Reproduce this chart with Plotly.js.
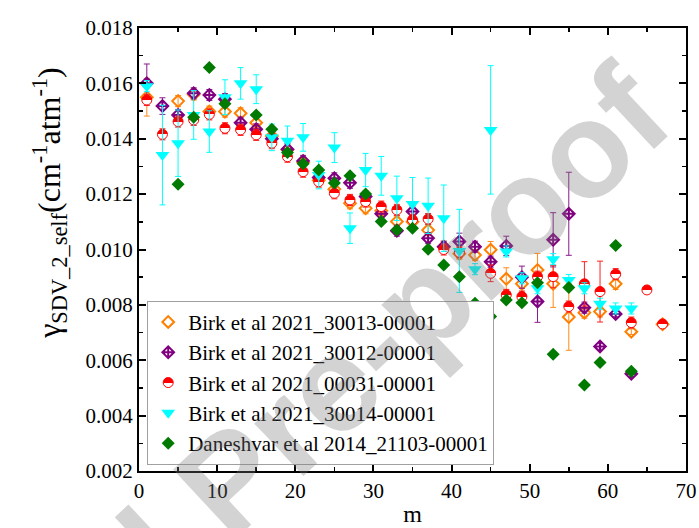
<!DOCTYPE html>
<html>
<head>
<meta charset="utf-8">
<script src="https://cdn.plot.ly/plotly-3.0.1.min.js"></script>
<style>
  html, body { margin: 0; padding: 0; background: #fff; }
  #chart { width: 699px; height: 528px; }
</style>
</head>
<body>
<div id="chart"></div>
<script>
// Self-broadened SDV (gamma_2) coefficients versus m, several band datasets

// Birk et al 2021, band 30013-00001
const m30013 = [1, 5, 7, 9, 11, 13, 15, 17, 19, 21, 23, 25, 27, 29, 31, 33, 35, 37, 39, 41, 43, 45, 47, 49, 51, 53, 55, 57, 59, 61, 63, 67];
const g30013 = [0.0155, 0.01536, 0.0156, 0.01498, 0.01498, 0.01492, 0.01458, 0.0141, 0.0136, 0.01315, 0.0125, 0.01218, 0.01167, 0.01149, 0.0114, 0.01101, 0.0110, 0.0107, 0.0101, 0.00985, 0.0098, 0.00999, 0.00894, 0.00876, 0.00926, 0.00876, 0.00756, 0.00772, 0.00776, 0.00876, 0.00703, 0.0073];
const e30013 = [0.00068, 0.0002, 0.0002, 0.0002, 0.0002, 0.0002, 0.0002, 0.0002, 0.0002, 0.0002, 0.0002, 0.0002, 0.0002, 0.0002, 0.0002, 0.0002, 0.0002, 0.0002, 0.0002, 0.0002, 0.0002, 0.0003, 0.0004, 0.0003, 0.0006, 0.00085, 0.0012, 0.0002, 0.0002, 0.0002, 0.0001, 0.0001];

// Birk et al 2021, band 30012-00001
const m30012 = [1, 3, 5, 7, 9, 11, 13, 15, 17, 19, 21, 23, 25, 27, 29, 31, 33, 35, 37, 39, 41, 43, 45, 47, 49, 51, 53, 55, 57, 59, 61, 63];
const g30012 = [0.0160, 0.01518, 0.01486, 0.01564, 0.01558, 0.01543, 0.01458, 0.01434, 0.0140, 0.01362, 0.0132, 0.0126, 0.01257, 0.01241, 0.01191, 0.01129, 0.01068, 0.01137, 0.01041, 0.0101, 0.01029, 0.0101, 0.00956, 0.01013, 0.0090, 0.00812, 0.01035, 0.01129, 0.0079, 0.0065, 0.00767, 0.00551];
const e30012 = [0.0007, 0.0003, 0.0002, 0.0002, 0.0002, 0.0002, 0.0002, 0.0002, 0.0002, 0.0002, 0.0002, 0.0002, 0.0002, 0.0002, 0.0002, 0.0002, 0.0002, 0.0002, 0.0002, 0.0002, 0.0003, 0.0002, 0.0002, 0.00035, 0.0004, 0.00075, 0.00098, 0.0015, 0.0002, 0.0001, 0.0001, 0.0001];

// Birk et al 2021, band 00031-00001
const m00031 = [1, 3, 5, 7, 9, 11, 13, 15, 17, 19, 21, 23, 25, 27, 29, 31, 33, 35, 37, 39, 41, 43, 45, 47, 49, 51, 53, 55, 57, 59, 61, 63, 65, 67];
const g00031 = [0.0154, 0.01416, 0.01462, 0.01468, 0.01488, 0.01438, 0.01432, 0.01414, 0.01384, 0.01335, 0.01281, 0.01245, 0.01203, 0.01179, 0.01173, 0.01155, 0.01143, 0.01107, 0.0111, 0.0100, 0.0099, 0.00796, 0.00914, 0.00836, 0.0083, 0.00902, 0.00902, 0.00794, 0.00876, 0.00848, 0.00911, 0.00736, 0.00854, 0.00731];
const e00031 = [0.0002, 0.0002, 0.0002, 0.0002, 0.0002, 0.0002, 0.0002, 0.0002, 0.0002, 0.0002, 0.0002, 0.0002, 0.0002, 0.0002, 0.0002, 0.0002, 0.0002, 0.0002, 0.0002, 0.0002, 0.0002, 0.0002, 0.0003, 0.0002, 0.0002, 0.0002, 0.0004, 0.0002, 0.0008, 0.0011, 0.0002, 0.0002, 0.0001, 0.0001];

// Birk et al 2021, band 30014-00001
const m30014 = [1, 3, 5, 7, 9, 11, 13, 15, 17, 19, 21, 23, 25, 27, 29, 31, 33, 35, 37, 39, 41, 43, 45, 47, 49, 51, 53, 55, 57, 59, 61, 63];
const g30014 = [0.0159, 0.01341, 0.01384, 0.01486, 0.01426, 0.0155, 0.0160, 0.01579, 0.01405, 0.01393, 0.01405, 0.01269, 0.01368, 0.01077, 0.01287, 0.01266, 0.01185, 0.01164, 0.01158, 0.01113, 0.00995, 0.00929, 0.01432, 0.00993, 0.00896, 0.0086, 0.00965, 0.0089, 0.0086, 0.00804, 0.00787, 0.00787];
const e30014 = [0.0002, 0.0018, 0.0012, 0.00088, 0.00075, 0.00063, 0.00057, 0.00052, 0.00048, 0.00053, 0.0005, 0.0005, 0.00054, 0.00055, 0.0006, 0.0007, 0.0008, 0.00096, 0.001, 0.0012, 0.0015, 0.0002, 0.00232, 0.0002, 0.0002, 0.0002, 0.0002, 0.0002, 0.0002, 0.0002, 0.0002, 0.0002];

// Daneshvar et al 2014, band 21103-00001
const m21103 = [5, 7, 9, 11, 15, 17, 19, 21, 23, 25, 27, 29, 31, 33, 35, 37, 39, 41, 43, 45, 47, 49, 51, 53, 55, 57, 59, 61, 63];
const g21103 = [0.01236, 0.01478, 0.01657, 0.01526, 0.01486, 0.01434, 0.0135, 0.0131, 0.01287, 0.0124, 0.01266, 0.0120, 0.01101, 0.0107, 0.01077, 0.01001, 0.00944, 0.00902, 0.00806, 0.00758, 0.00818, 0.00808, 0.0088, 0.00622, 0.00863, 0.00511, 0.00592, 0.01014, 0.0056];

const names = [
  'Birk et al 2021_30013-00001',
  'Birk et al 2021_30012-00001',
  'Birk et al 2021_00031-00001',
  'Birk et al 2021_30014-00001',
  'Daneshvar et al 2014_21103-00001'
];

const serif = 'Liberation Serif, Times New Roman, serif';

function errBar(arr, color) {
  return { type: 'data', array: arr, visible: true, color: color, thickness: 1, width: 3 };
}

const traces = [
  {
    x: m30013, y: g30013, name: names[0], mode: 'markers', type: 'scatter',
    error_y: errBar(e30013, '#ff8c1a'),
    marker: { symbol: 'diamond-open', size: 9, color: '#ff7f00', line: { width: 2, color: '#ff7f00' } }
  },
  {
    x: m30012, y: g30012, name: names[1], mode: 'markers', type: 'scatter',
    error_y: errBar(e30012, '#8b1a8b'),
    marker: { symbol: 'diamond-cross-open', size: 9, color: '#800080', line: { width: 2, color: '#800080' } }
  },
  {
    x: m00031, y: g00031, name: names[2], mode: 'markers', type: 'scatter',
    error_y: errBar(e00031, '#ff2020'),
    marker: { symbol: 'circle', size: 10, color: '#ff0000', gradient: { type: 'vertical', color: '#ffffff' }, line: { width: 1, color: '#ff0000' } }
  },
  {
    x: m30014, y: g30014, name: names[3], mode: 'markers', type: 'scatter',
    error_y: errBar(e30014, '#00ffff'),
    marker: { symbol: 'triangle-down', size: 12, color: '#00ffff', line: { width: 0 } }
  },
  {
    x: m21103, y: g21103, name: names[4], mode: 'markers', type: 'scatter',
    marker: { symbol: 'diamond', size: 10, color: '#007a00', line: { width: 0 } }
  }
];

const axisCommon = {
  showline: true, linecolor: '#000', linewidth: 2, mirror: 'ticks',
  ticks: 'inside', ticklen: 7, tickwidth: 2, tickcolor: '#000',
  showgrid: false, zeroline: false,
  tickfont: { family: serif, size: 21, color: '#000' }
};

const layout = {
  width: 699, height: 528,
  margin: { l: 139, r: 13, t: 28, b: 57 },
  paper_bgcolor: '#fff', plot_bgcolor: '#fff',
  showlegend: true,
  xaxis: Object.assign({}, axisCommon, {
    range: [0, 70], dtick: 10, tick0: 0,
    minor: { dtick: 5, ticks: 'inside', ticklen: 4, tickwidth: 1.5, tickcolor: '#000' },
    title: { text: 'm', font: { family: serif, size: 24, color: '#000' }, standoff: 3 }
  }),
  yaxis: Object.assign({}, axisCommon, {
    range: [0.002, 0.018], dtick: 0.002, tick0: 0.002, tickformat: '.3f',
    minor: { dtick: 0.001, ticks: 'inside', ticklen: 4, tickwidth: 1.5, tickcolor: '#000' }
  }),
  legend: {
    x: 0.015, y: 0.014, xanchor: 'left', yanchor: 'bottom',
    bgcolor: 'rgba(255,255,255,1)', bordercolor: '#a0a0a0', borderwidth: 1,
    font: { family: serif, size: 21, color: '#000' },
    tracegroupgap: 0, itemwidth: 30
  },
  annotations: [
    {
      // y-axis title
      text: 'γ<sub>SDV_2_self</sub>(cm<sup>-1</sup>atm<sup>-1</sup>)',
      xref: 'paper', yref: 'paper', x: -0.163, y: 0.605,
      xanchor: 'center', yanchor: 'middle', showarrow: false, textangle: -90,
      font: { family: serif, size: 32, color: '#000' }
    },
    {
      // diagonal watermark
      text: 'Journal Pre-proof',
      xref: 'paper', yref: 'paper', x: 0.165, y: -0.023,
      xanchor: 'center', yanchor: 'middle',
      showarrow: false, textangle: -43,
      font: { family: 'Liberation Sans', size: 136, weight: 'bold', color: 'rgba(120,120,120,0.33)' }
    }
  ]
};

Plotly.newPlot('chart', traces, layout, { staticPlot: true, displayModeBar: false }).then(function (gd) {
  // make the red circles half-filled: solid top half, white bottom half
  gd.querySelectorAll('linearGradient').forEach(function (g) {
    g.setAttribute('x1', '0'); g.setAttribute('y1', '0');
    g.setAttribute('x2', '0'); g.setAttribute('y2', '1');
    while (g.firstChild) g.removeChild(g.firstChild);
    [['0%', '#ff0000'], ['50%', '#ff0000'], ['50%', '#ffffff'], ['100%', '#ffffff']].forEach(function (s) {
      const st = document.createElementNS('http://www.w3.org/2000/svg', 'stop');
      st.setAttribute('offset', s[0]);
      st.setAttribute('stop-color', s[1]);
      g.appendChild(st);
    });
  });
});
</script>
</body>
</html>
